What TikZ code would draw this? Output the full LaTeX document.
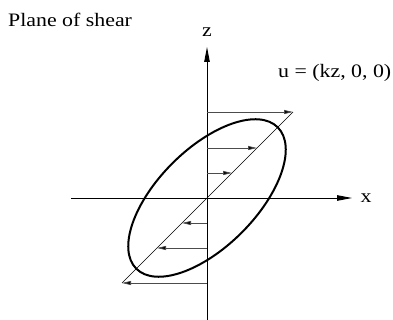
\documentclass[tikz,border=0pt]{standalone}
\usepackage{fontspec}
\setmainfont{Liberation Serif}[FakeStretch=1.15]
\usetikzlibrary{arrows.meta}
\begin{document}
\begin{tikzpicture}[x=1pt,y=-1pt,
  axis/.style={line width=0.9pt,-{Triangle[length=15pt,width=5.5pt]}},
  shear/.style={line width=0.8pt,draw=black!70,-{Triangle[length=9pt,width=4pt,fill=black]}},
  lbl/.style={font=\fontsize{19}{21}\selectfont,inner sep=0pt}]
\useasboundingbox (0,0) rectangle (393,320);
\coordinate (O) at (207,198);
\coordinate (zb) at (207,320);
\coordinate (zt) at (207,47);
\coordinate (xl) at (71,198);
\coordinate (xr) at (352,198);
\coordinate (d1) at (122,283);
\coordinate (d2) at (293,112);
\draw[axis] (zb) -- (zt);
\draw[axis] (xl) -- (xr);
\draw[line width=0.7pt] (d1) -- (d2);
\draw[line width=2pt] (O) ellipse[x radius=100,y radius=49,rotate=45];
\foreach \z [count=\i] in {86,50,25,-25,-50,-85}{
  \coordinate (s\i) at (207,198-\z);
  \coordinate (e\i) at (207+\z,198-\z);
  \draw[shear] (s\i) -- (e\i);
}
\node[lbl,anchor=base west] (title) at (8,27) {Plane of shear};
\node[lbl] (zlab) at (207,32) {z};
\node[lbl] (xlab) at (366,198) {x};
\node[lbl,anchor=base west] (ulab) at (278,78) {u = (kz, 0, 0)};
\end{tikzpicture}
\end{document}
